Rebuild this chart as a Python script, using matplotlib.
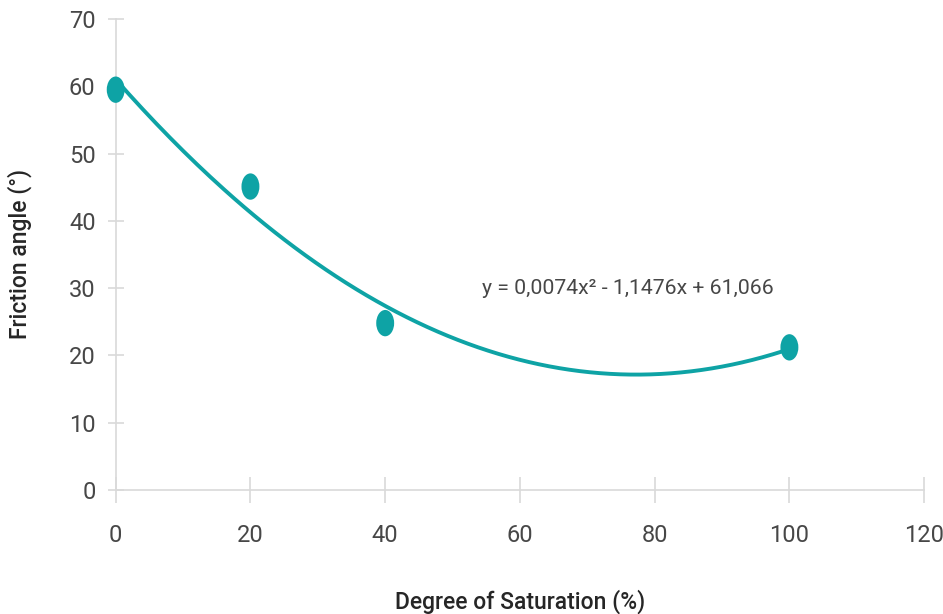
import numpy as np
import matplotlib.pyplot as plt
from matplotlib.path import Path
from matplotlib.transforms import Affine2D

# Data
saturation = [0, 20, 40, 100]
friction_angle = [59.5, 45.1, 24.8, 21.2]
x_ticks = [0, 20, 40, 60, 80, 100, 120]
y_ticks = [0, 10, 20, 30, 40, 50, 60, 70]

plt.rcParams['font.family'] = ['Roboto', 'DejaVu Sans']

teal = '#0ea3a5'
grey = '#d9d9d9'
text_col = '#474747'

fig = plt.figure(figsize=(9.43, 6.14), dpi=100)
ax = fig.add_axes([0.1227, 0.202, 0.8573, 0.767])

# Quadratic trendline fitted to the points
coef = np.polyfit(saturation, friction_angle, 2)
xs = np.linspace(min(saturation), max(saturation), 200)
ax.plot(xs, np.polyval(coef, xs), color=teal, lw=2.8, solid_capstyle='round',
        zorder=2, clip_on=False)

# Tall elliptical markers
ellipse = Path.unit_circle().transformed(Affine2D().scale(0.68, 1.0))
ax.scatter(saturation, friction_angle, marker=ellipse, s=360, color=teal,
           edgecolors='none', zorder=3, clip_on=False)

ax.text(54.3, 30, "y = 0,0074x² - 1,1476x + 61,066", fontsize=15.3, color=text_col,
        va='center', ha='left')

ax.set_xlim(0, 120)
ax.set_ylim(0, 70)
ax.set_xticks(x_ticks)
ax.set_yticks(y_ticks)

for side in ['top', 'right']:
    ax.spines[side].set_visible(False)
for side in ['left', 'bottom']:
    ax.spines[side].set_color(grey)
    ax.spines[side].set_linewidth(1.2)

ax.tick_params(axis='y', direction='inout', length=11, width=1.2, color=grey,
               labelsize=17, labelcolor=text_col, pad=9)
ax.tick_params(axis='x', direction='inout', length=19, width=1.2, color=grey,
               labelsize=17, labelcolor=text_col, pad=15)

# Axis titles placed in figure coordinates
fig.text(20 / 943, 1 - 254 / 614, 'Friction angle (°)', rotation=90, fontsize=16.5,
         color='#262626', fontweight='medium', ha='center', va='center')
fig.text(520 / 943, 1 - 602 / 614, 'Degree of Saturation (%)', fontsize=16.5,
         color='#262626', fontweight='medium', ha='center', va='center')

fig.savefig('out.png', dpi=100)
